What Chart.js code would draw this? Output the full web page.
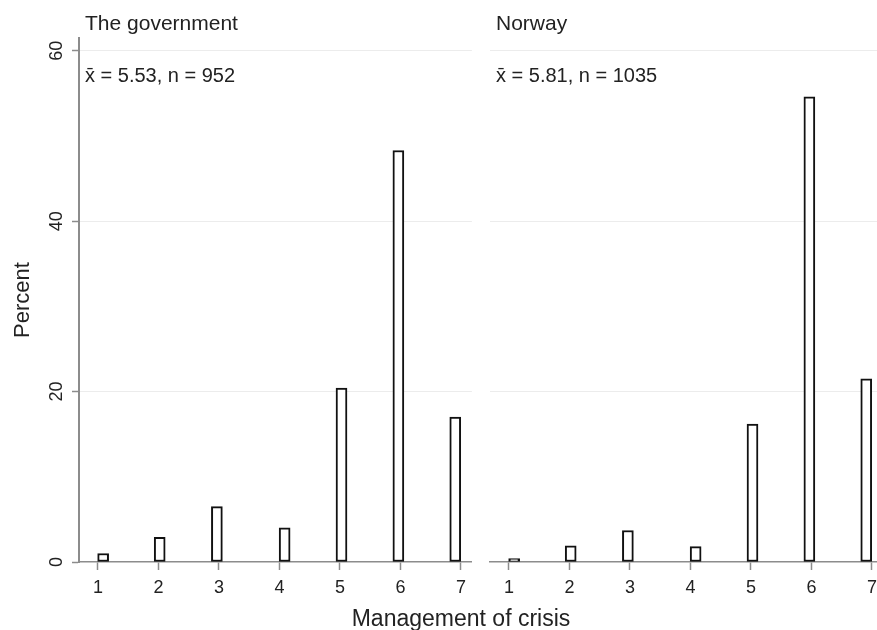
<!DOCTYPE html>
<html>
<head>
<meta charset="utf-8">
<script src="https://cdn.jsdelivr.net/npm/chart.js@4"></script>
<style>
  html, body { margin: 0; padding: 0; background: #fff; }
  #wrap { position: relative; width: 877px; height: 630px; overflow: hidden; background: #fff; }
  canvas { position: absolute; top: 0; }
  #cLeft { left: 0; }
  #cRight { left: 484px; }
  #xtitle {
    position: absolute; left: 261px; width: 400px; top: 607px;
    text-align: center; font: 23px/23px "Liberation Sans", Arial, sans-serif; color: #222;
  }
</style>
</head>
<body>
<div id="wrap">
  <canvas id="cLeft" width="473" height="630"></canvas>
  <canvas id="cRight" width="400" height="630"></canvas>
  <div id="xtitle">Management of crisis</div>
</div>
<script>
// Response categories (1 = very poor ... 7 = very good)
const categories = [1, 2, 3, 4, 5, 6, 7];

// Midpoints of the histogram bins holding each category
const binMids = [1.085, 2.02, 2.965, 4.085, 5.025, 5.965, 6.905];

// Percent of respondents in each category
const governmentPct = [1.0, 2.9, 6.5, 4.0, 20.4, 48.3, 17.0];
const norwayPct     = [0.4, 1.9, 3.7, 1.8, 16.2, 54.6, 21.5];

// Panel headings and summary statistics
const panelTitles = ['The government', 'Norway'];
const panelMeans  = [5.53, 5.81];
const panelCounts = [952, 1035];

// Axis ticks
const yTicks = [0, 20, 40, 60];
const xTicks = categories;

const FONT = '"Liberation Sans", Arial, sans-serif';
const AXIS_GRAY = '#8c8c8c';
const GRID_GRAY = '#ececec';
const TEXT_DARK = '#222';

// Writes the panel heading and the mean / n line inside each panel
const panelText = {
  id: 'panelText',
  afterDraw(chart, args, opts) {
    const ctx = chart.ctx;
    const area = chart.chartArea;
    ctx.save();
    ctx.fillStyle = TEXT_DARK;
    ctx.textAlign = 'left';
    ctx.textBaseline = 'alphabetic';
    ctx.font = '21px ' + FONT;
    ctx.fillText(opts.title, area.left + 6, 30);
    ctx.font = '20px ' + FONT;
    ctx.fillText('x\u0304 = ' + opts.mean.toFixed(2) + ', n = ' + opts.n, area.left + 6, 82);
    ctx.restore();
  }
};

// Vertical (rotated) y tick labels, Stata style
const rotatedYLabels = {
  id: 'rotatedYLabels',
  afterDraw(chart, args, opts) {
    if (!opts.show) return;
    const ctx = chart.ctx;
    const ys = chart.scales.y;
    ctx.save();
    ctx.fillStyle = TEXT_DARK;
    ctx.font = '18px ' + FONT;
    ctx.textAlign = 'center';
    ctx.textBaseline = 'alphabetic';
    yTicks.forEach(v => {
      const y = ys.getPixelForValue(v);
      ctx.save();
      ctx.translate(62, y);
      ctx.rotate(-Math.PI / 2);
      ctx.fillText(String(v), 0, 0);
      ctx.restore();
    });
    ctx.restore();
  }
};

function panelConfig(idx, values, isLeft) {
  return {
    type: 'bar',
    data: {
      datasets: [{
        data: binMids.map((m, i) => ({ x: m, y: values[i] })),
        backgroundColor: '#ffffff',
        borderColor: '#111111',
        borderWidth: 2,
        borderSkipped: false,
        barThickness: 11
      }]
    },
    options: {
      responsive: false,
      animation: false,
      events: [],
      layout: { padding: { top: 38, left: isLeft ? 0 : 6, right: 0, bottom: 0 } },
      plugins: {
        legend: { display: false },
        tooltip: { enabled: false },
        title: { display: false },
        panelText: { title: panelTitles[idx], mean: panelMeans[idx], n: panelCounts[idx] },
        rotatedYLabels: { show: isLeft }
      },
      scales: {
        x: {
          type: 'linear',
          min: 0.686,
          max: 7.18,
          offset: false,
          grid: {
            display: true, offset: false, drawOnChartArea: false, drawTicks: true,
            tickLength: 8, tickColor: AXIS_GRAY, tickWidth: 1.5
          },
          border: { display: true, color: AXIS_GRAY, width: 1.5, z: -1 },
          ticks: {
            color: TEXT_DARK, font: { family: FONT, size: 18 },
            padding: 7, maxRotation: 0, minRotation: 0, autoSkip: false
          },
          afterBuildTicks: s => { s.ticks = xTicks.map(v => ({ value: v })); },
          afterFit: s => { s.height = 68; }
        },
        y: {
          min: 0,
          max: 61.5,
          grid: {
            color: c => (c.tick && c.tick.value === 0) ? 'rgba(0,0,0,0)' : GRID_GRAY,
            lineWidth: 1,
            drawTicks: isLeft, tickLength: 7, tickColor: AXIS_GRAY, tickWidth: 1.5
          },
          border: { display: isLeft, color: AXIS_GRAY, width: 2 },
          ticks: { display: false },
          title: {
            display: isLeft, text: 'Percent', color: TEXT_DARK,
            font: { family: FONT, size: 22 }, padding: { top: 10, bottom: 0 }
          },
          afterBuildTicks: s => { s.ticks = yTicks.map(v => ({ value: v })); },
          afterFit: s => { s.width = isLeft ? 79 : 0; }
        }
      }
    },
    plugins: [panelText, rotatedYLabels]
  };
}

new Chart(document.getElementById('cLeft'), panelConfig(0, governmentPct, true));
new Chart(document.getElementById('cRight'), panelConfig(1, norwayPct, false));
</script>
</body>
</html>
